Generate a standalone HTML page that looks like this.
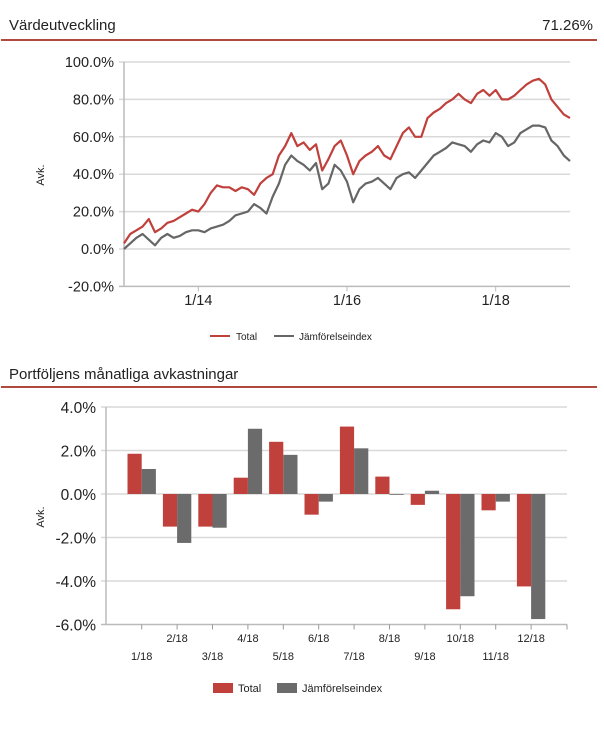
<!DOCTYPE html>
<html><head><meta charset="utf-8"><style>
body{margin:0;background:#fff;font-family:"Liberation Sans",sans-serif;}
svg{display:block}
</style></head><body>
<svg width="604" height="732" xmlns="http://www.w3.org/2000/svg" font-family="Liberation Sans, sans-serif">
<text x="9" y="30" font-size="15" fill="#222">Värdeutveckling</text>
<text x="593" y="30" font-size="15" fill="#222" text-anchor="end">71.26%</text>
<rect x="1" y="39" width="596" height="2" fill="#b04a3f"/>
<g id="topchart"></g>
<text x="9" y="379" font-size="15" fill="#222">Portföljens månatliga avkastningar</text>
<rect x="1" y="386" width="596" height="2" fill="#b04a3f"/>
<g id="bot"></g>
</svg>
<script>
const NS="http://www.w3.org/2000/svg";
const yTicks=[100,80,60,40,20,0,-20];
const xTickLabels=["1/14","1/16","1/18"];
const xTickYears=[1,3,5];
const totalSeries=[3,8,10,12,16,9,11,14,15,17,19,21,20,24,30,34,33,33,31,33,32,29,35,38,40,50,55,62,55,57,53,56,42,48,55,58,50,40,47,50,52,55,50,48,55,62,65,60,60,70,73,75,78,80,83,80,78,83,85,82,85,80,80,82,85,88,90,91,88,80,76,72,70];
const indexSeries=[0,3,6,8,5,2,6,8,6,7,9,10,10,9,11,12,13,15,18,19,20,24,22,19,28,35,45,50,47,45,42,46,32,35,45,42,36,25,32,35,36,38,35,32,38,40,41,38,42,46,50,52,54,57,56,55,52,56,58,57,62,60,55,57,62,64,66,66,65,58,55,50,47];
const months=["1/18","2/18","3/18","4/18","5/18","6/18","7/18","8/18","9/18","10/18","11/18","12/18"];
const totalMonthly=[1.85,-1.5,-1.5,0.75,2.4,-0.95,3.1,0.8,-0.5,-5.3,-0.75,-4.25];
const indexMonthly=[1.15,-2.25,-1.55,3.0,1.8,-0.35,2.1,-0.02,0.15,-4.7,-0.35,-5.75];
const barTicks=[4,2,0,-2,-4,-6];

function mk(tag,attrs,parent,text){const e=document.createElementNS(NS,tag);for(const k in attrs)e.setAttribute(k,attrs[k]);if(text!==undefined)e.textContent=text;parent.appendChild(e);return e;}
const topG=document.getElementById('topchart');
const L=124,R=570,yTop=(v)=>249-(v)*1.87, xTop=(yr)=>L+(R-L)*yr/6;
yTicks.forEach(v=>{
  const g=mk('line',{x1:L-5,x2:R,y1:yTop(v),y2:yTop(v),stroke:v===-20?'#bbb':'#d9d9d9','stroke-width':1.5},topG);
  
  
  const t=mk('text',{x:L-10,y:yTop(v)+5,'text-anchor':'end','font-size':14.5,fill:'#222'},topG,v.toFixed(1)+'%');
  
  
});
mk('line',{x1:L,x2:L,y1:yTop(100),y2:yTop(-20),stroke:'#bbb','stroke-width':1.5},topG);
xTickYears.forEach((y,i)=>{
  mk('line',{x1:xTop(y),x2:xTop(y),y1:yTop(-20),y2:yTop(-20)+5,stroke:'#bbb'},topG);
  const t=mk('text',{x:xTop(y),y:305,'text-anchor':'middle','font-size':14.5,fill:'#222'},topG,xTickLabels[i]);
  
  
});
const ya=mk('text',{x:0,y:0,transform:'translate(44,175) rotate(-90)','text-anchor':'middle','font-size':11,fill:'#222'},topG,'Avk.');


function line(arr,color,name){
  const pts=arr.map((v,i)=>xTop(i*6/(arr.length-1)).toFixed(1)+','+yTop(v).toFixed(1)).join(' ');
  const p=mk('polyline',{points:pts,fill:'none',stroke:color,'stroke-width':2.2,'stroke-linejoin':'round'},topG);
  
  
}
line(indexSeries,'#666','index-line');
line(totalSeries,'#c0403c','total-line');
mk('line',{x1:210,x2:230,y1:336,y2:336,stroke:'#c0403c','stroke-width':2},topG);
const l1=mk('text',{x:236,y:340,'font-size':10,fill:'#222'},topG,'Total');


mk('line',{x1:274,x2:294,y1:336,y2:336,stroke:'#666','stroke-width':2},topG);
const l2=mk('text',{x:299,y:340,'font-size':10,fill:'#222'},topG,'Jämförelseindex');



const botG=document.getElementById('bot');
const BL=106,BR=567,yB=(v)=>494-v*21.75,cx=(i)=>141.7+35.4*i,bw=14.2;
barTicks.forEach(v=>{
  const g=mk('line',{x1:BL-5,x2:BR,y1:yB(v),y2:yB(v),stroke:v===-6?'#bbb':'#d9d9d9','stroke-width':1.5},botG);
  
  
  const t=mk('text',{x:BL-10,y:yB(v)+6,'text-anchor':'end','font-size':15.5,fill:'#222'},botG,v.toFixed(1)+'%');
  
  
});
mk('line',{x1:BL,x2:BL,y1:yB(4),y2:yB(-6),stroke:'#bbb','stroke-width':1.5},botG);
const yb=mk('text',{x:0,y:0,transform:'translate(44,517) rotate(-90)','text-anchor':'middle','font-size':11,fill:'#222'},botG,'Avk.');


months.forEach((m,i)=>{
  const x=cx(i);
  [[totalMonthly[i],'#c0403c',x-bw,'bar-total'],[indexMonthly[i],'#6b6b6b',x,'bar-index']].forEach(([v,c,bx,n])=>{
    const r=mk('rect',{x:bx,y:Math.min(yB(v),yB(0)),width:bw,height:Math.max(Math.abs(yB(v)-yB(0)),0.8),fill:c},botG);
    
    
  });
  mk('line',{x1:x,x2:x,y1:yB(-6),y2:yB(-6)+5,stroke:'#999'},botG);
  const t=mk('text',{x:x,y:i%2?642:660,'text-anchor':'middle','font-size':11,fill:'#222'},botG,m);
  
  
});
mk('line',{x1:BR,x2:BR,y1:yB(-6),y2:yB(-6)+5,stroke:'#999'},botG);
mk('rect',{x:213,y:683,width:20,height:10,fill:'#c0403c'},botG);
const b1=mk('text',{x:238,y:692,'font-size':11,fill:'#222'},botG,'Total');


mk('rect',{x:277,y:683,width:20,height:10,fill:'#6b6b6b'},botG);
const b2=mk('text',{x:302,y:692,'font-size':11,fill:'#222'},botG,'Jämförelseindex');


</script>
</body></html>
